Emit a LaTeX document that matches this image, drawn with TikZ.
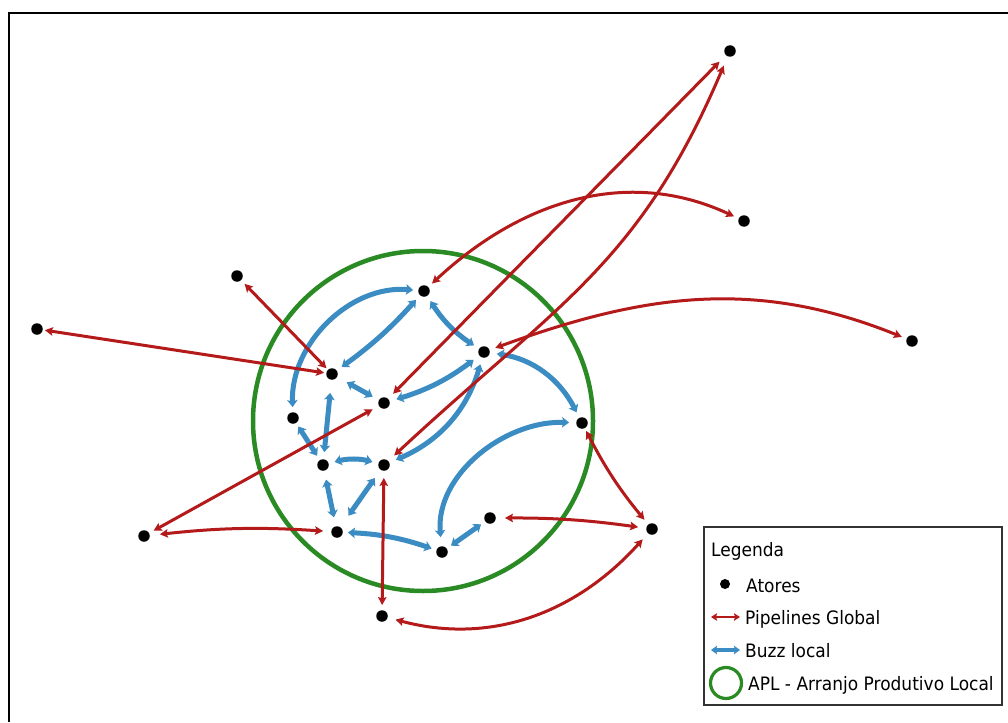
\documentclass[tikz,border=0pt]{standalone}
\usepackage{fontspec}
\setmainfont{DejaVu Sans}[FakeStretch=0.92]
\usetikzlibrary{arrows.meta}
\definecolor{pipe}{RGB}{180,26,26}
\definecolor{buzz}{RGB}{58,140,194}
\definecolor{apl}{RGB}{42,138,36}
\begin{document}
\begin{tikzpicture}[x=1pt,y=-1pt,
  dot/.style={circle,fill=black,draw=none,inner sep=0pt,minimum size=11.5pt},
  redtip/.tip={Stealth[length=8pt,width=8.5pt,inset=1.5pt]},
  bluetip/.tip={Stealth[length=7pt,width=10.5pt,inset=1.5pt]},
  pipeline/.style={draw=pipe,line width=3pt,redtip-redtip,shorten >=5pt,shorten <=5pt},
  buzzline/.style={draw=buzz,line width=5pt,bluetip-bluetip,shorten >=7pt,shorten <=7pt},
  legtext/.style={anchor=base west,inner sep=0pt,font=\fontsize{18.5}{22}\selectfont}
]
\useasboundingbox (0,0) rectangle (1008,722);
\fill[white] (0,0) rectangle (1008,722);
% frame
\draw[black,line width=2pt] (9,722) -- (9,13) -- (1008,13);
% APL circle
\draw[apl,line width=4.5pt] (423,421) circle (170pt);
% actors
\node[dot] (A) at (730,51) {};
\node[dot] (B) at (744,221) {};
\node[dot] (C) at (912,341) {};
\node[dot] (D) at (237,276) {};
\node[dot] (E) at (37,329) {};
\node[dot] (F) at (144,536) {};
\node[dot] (G) at (382,616) {};
\node[dot] (H) at (652,529) {};
\node[dot] (n1) at (424,291) {};
\node[dot] (n2) at (484,352) {};
\node[dot] (n3) at (332,374) {};
\node[dot] (n4) at (384,403) {};
\node[dot] (n5) at (293,418) {};
\node[dot] (n6) at (582,423) {};
\node[dot] (n7) at (323,465) {};
\node[dot] (n8) at (384,465) {};
\node[dot] (n9) at (490,518) {};
\node[dot] (n10) at (337,532) {};
\node[dot] (n11) at (442,552) {};
% buzz local
\draw[buzzline,shorten <=5pt,shorten >=5pt] (n1) to[out=175,in=92] (n5);
\draw[buzzline,shorten <=6pt,shorten >=6pt] (n3) to[bend right=6] (n1);
\draw[buzzline,shorten <=6pt,shorten >=6pt] (n1) to[bend right=12] (n2);
\draw[buzzline,shorten <=11pt,shorten >=7pt] (n3) -- (n4);
\draw[buzzline,shorten <=7pt,shorten >=7pt] (n4) to[bend right=10] (n2);
\draw[buzzline,shorten <=7pt,shorten >=7pt] (n2) to[bend left=25] (n8);
\draw[buzzline,shorten <=7pt,shorten >=6pt] (n2) to[out=-8,in=117] (n6);
\draw[buzzline,shorten <=13pt,shorten >=7pt] (n3) -- (n7);
\draw[buzzline,shorten <=4pt,shorten >=5pt] (n5) -- (n7);
\draw[buzzline,shorten <=6pt,shorten >=6pt] (n7) to[bend left=15] (n8);
\draw[buzzline,shorten <=9pt,shorten >=9pt] (n7) -- (n10);
\draw[buzzline,shorten <=10pt,shorten >=14pt] (n8) -- (n10);
\draw[buzzline,shorten <=5pt,shorten >=5pt] (n10) to[bend left=8] (n11);
\draw[buzzline,shorten <=5pt,shorten >=5pt] (n11) -- (n9);
\draw[buzzline,shorten <=7pt,shorten >=9pt] (n6) to[out=178,in=95] (n11);
% pipelines global
\draw[pipeline,shorten >=9pt,shorten <=7pt] (n4) -- (A);
\draw[pipeline,shorten >=10pt,shorten <=8pt] (n8) to[out=43,in=247,looseness=1.1] (A);
\draw[pipeline] (n1) to[out=43,in=155] (B);
\draw[pipeline,shorten <=6pt] (n2) to[out=20,in=158] (C);
\draw[pipeline,shorten <=2pt] (n3) -- (D);
\draw[pipeline,shorten <=2pt,shorten >=2pt] (n3) -- (E);
\draw[pipeline,shorten <=7pt] (n4) -- (F);
\draw[pipeline,shorten >=8pt,shorten <=10pt] (F) to[bend left=5] (n10);
\draw[pipeline,shorten <=7pt,shorten >=5pt] (n8) -- (G);
\draw[pipeline,shorten <=8pt,shorten >=8pt] (G) to[out=-15,in=228] (H);
\draw[pipeline,shorten <=3pt,shorten >=6pt] (n6) to[bend right=6] (H);
\draw[pipeline,shorten <=9pt,shorten >=8pt] (n9) to[bend left=4] (H);
% legend
\draw[black!80,fill=white,line width=1.4pt] (704,527) rectangle (1002,705);
\node[legtext] (lt) at (711,556) {Legenda};
\node[dot,minimum size=10pt] (ld) at (725,584) {};
\node[legtext] (la) at (746,592) {Atores};
\coordinate (lp1) at (711,617);
\coordinate (lp2) at (740,617);
\draw[pipeline,shorten <=0pt,shorten >=0pt,line width=2.6pt,{Stealth[length=6pt,width=7.5pt,inset=1pt]}-{Stealth[length=6pt,width=7.5pt,inset=1pt]}] (lp1) -- (lp2);
\node[legtext] (lpt) at (745,624) {Pipelines Global};
\coordinate (lb1) at (711,650);
\coordinate (lb2) at (740,650);
\draw[buzzline,shorten <=0pt,shorten >=0pt,line width=4.4pt,{Stealth[length=6pt,width=8.5pt,inset=1pt]}-{Stealth[length=6pt,width=8.5pt,inset=1pt]}] (lb1) -- (lb2);
\node[legtext] (lbt) at (745,657) {Buzz local};
\node[circle,draw=apl,line width=3.2pt,minimum size=31pt,inner sep=0pt] (lc) at (726,683) {};
\node[legtext] (lct) at (748,690) {APL - Arranjo Produtivo Local};
\end{tikzpicture}
\end{document}
